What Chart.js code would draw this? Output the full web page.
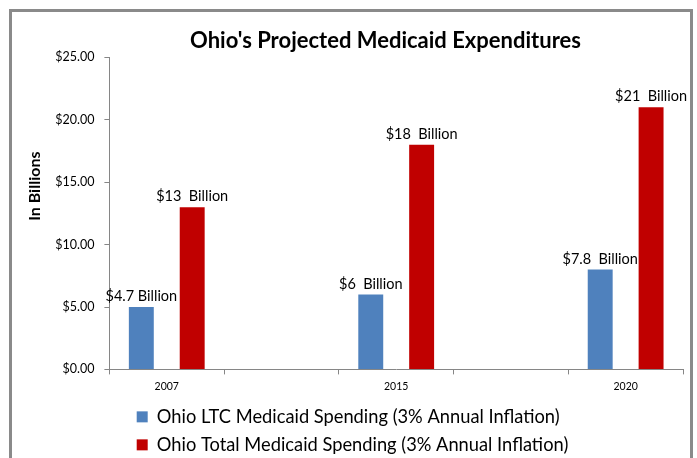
<!DOCTYPE html>
<html>
<head>
<meta charset="utf-8">
<script src="https://cdn.jsdelivr.net/npm/chart.js@4/dist/chart.umd.min.js"></script>
<style>
  html, body { margin: 0; padding: 0; background: #ffffff; overflow: hidden; }
  #wrap { position: relative; width: 697px; height: 458px; overflow: hidden; }
  #frame { position: absolute; left: 9px; top: 9px; width: 678px; height: 470px; border: 3px solid #8a8a8a; box-sizing: content-box; }
  #box { position: absolute; left: 0; top: 0; width: 697px; height: 464px; }
</style>
</head>
<body>
<div id="wrap">
  <div id="frame"></div>
  <div id="box"><canvas id="c" width="697" height="464"></canvas></div>
</div>
<script>
// ---- data ----
const categories = ['2007', '', '2015', '', '2020'];
const seriesNames = [
  'Ohio LTC Medicaid Spending (3% Annual Inflation)',
  'Ohio Total Medicaid Spending (3% Annual Inflation)'
];
const ltcValues   = [5, null, 6, null, 8];
const totalValues = [13, null, 18, null, 21];
const ltcLabels   = ['$4.7 Billion', null, '$6  Billion', null, '$7.8  Billion'];
const totalLabels = ['$13  Billion', null, '$18  Billion', null, '$21  Billion'];
const yTicks = [0, 5, 10, 15, 20, 25];
const chartTitle = "Ohio's Projected Medicaid Expenditures";
const yTitle = 'In Billions';

const FONT = "Lato, 'Open Sans', 'Liberation Sans', sans-serif";
const AXIS = '#868686';

const valueLabels = {
  id: 'valueLabels',
  afterDatasetsDraw(chart) {
    const ctx = chart.ctx;
    const sets = [ltcLabels, totalLabels];
    ctx.save();
    ctx.font = '14.5px ' + FONT;
    ctx.fillStyle = '#000000';
    ctx.textAlign = 'center';
    ctx.textBaseline = 'alphabetic';
    sets.forEach((labels, di) => {
      const meta = chart.getDatasetMeta(di);
      meta.data.forEach((el, i) => {
        if (labels[i] == null) return;
        ctx.fillText(labels[i], el.x, el.y - 6);
      });
    });
    ctx.restore();
  }
};

const placeBlocks = {
  id: 'placeBlocks',
  afterLayout(chart) {
    if (chart.titleBlock) { chart.titleBlock.left = 88; }
    if (chart.legend) { chart.legend.left = 137 - 10; }
  }
};

new Chart(document.getElementById('c'), {
  type: 'bar',
  data: {
    labels: categories,
    datasets: [
      { label: seriesNames[0], data: ltcValues, backgroundColor: '#4F81BD', borderWidth: 0,
        categoryPercentage: 0.887, barPercentage: 0.49 },
      { label: seriesNames[1], data: totalValues, backgroundColor: '#C00000', borderWidth: 0,
        categoryPercentage: 0.887, barPercentage: 0.49 }
    ]
  },
  options: {
    responsive: false,
    animation: false,
    devicePixelRatio: 1,
    layout: { padding: { left: 4, right: 14, top: 0, bottom: 0 } },
    plugins: {
      title: {
        display: true,
        text: chartTitle,
        color: '#000000',
        font: { family: FONT, size: 22, weight: 'bold', lineHeight: 1.2 },
        padding: { top: 28, bottom: 3 }
      },
      legend: {
        display: true,
        position: 'bottom',
        align: 'start',
        labels: {
          color: '#000000',
          font: { family: FONT, size: 18.3 },
          boxWidth: 11,
          boxHeight: 11,
          padding: 9.7
        }
      },
      tooltip: { enabled: false }
    },
    scales: {
      x: {
        type: 'category',
        offset: true,
        border: { display: true, color: AXIS, width: 1 },
        grid: { display: true, offset: true, drawOnChartArea: false, drawTicks: true, tickLength: 5, color: AXIS },
        ticks: { color: '#000000', font: { family: FONT, size: 10.5 }, padding: 5.5, autoSkip: false, maxRotation: 0 }
      },
      y: {
        min: 0,
        max: 25,
        afterBuildTicks(scale) { scale.ticks = yTicks.map(v => ({ value: v })); },
        border: { display: true, color: AXIS, width: 1 },
        grid: { display: true, drawOnChartArea: false, drawTicks: true, tickLength: 5, color: AXIS },
        ticks: { color: '#000000', font: { family: FONT, size: 12.5 }, padding: 10,
                 callback: v => '$' + Number(v).toFixed(2) },
        title: {
          display: true,
          text: '              ' + yTitle,
          color: '#000000',
          font: { family: FONT, size: 16, weight: 'bold' },
          padding: { top: 21, bottom: 1 }
        }
      }
    }
  },
  plugins: [valueLabels, placeBlocks]
});
</script>
</body>
</html>
